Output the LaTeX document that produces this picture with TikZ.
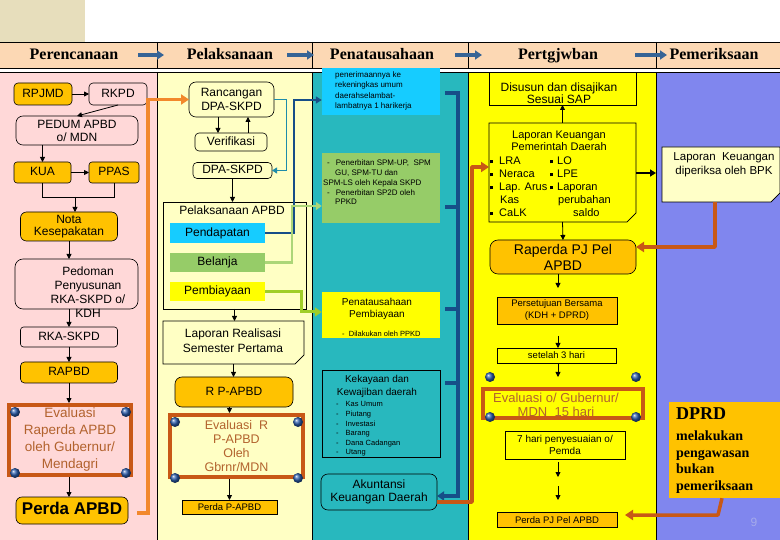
\documentclass[tikz,border=0pt]{standalone}
\usepackage{fontspec}
\setmainfont{Liberation Sans}
\newfontfamily\serf{Liberation Serif}
\usetikzlibrary{arrows.meta,calc}
\newcommand\fsz[2]{\fontsize{#1}{#2}\selectfont}
\newcommand\sq{\rule[1.2pt]{3pt}{3pt}}
\definecolor{pinkbg}{RGB}{255,216,216}
\definecolor{lyel}{RGB}{255,255,196}
\definecolor{tealc}{RGB}{40,184,190}
\definecolor{yel}{RGB}{255,255,0}
\definecolor{peri}{RGB}{128,134,238}
\definecolor{hdr}{RGB}{252,216,180}
\definecolor{beige}{RGB}{231,222,188}
\definecolor{orng}{RGB}{255,194,0}
\definecolor{brn}{RGB}{200,88,22}
\definecolor{evtext}{RGB}{178,98,45}
\definecolor{olin}{RGB}{242,136,44}
\definecolor{dbl}{RGB}{22,78,136}
\definecolor{hbl}{RGB}{54,100,150}
\definecolor{cyanb}{RGB}{22,204,255}
\definecolor{greenb}{RGB}{150,204,104}
\definecolor{glin}{RGB}{172,214,120}
\definecolor{yglin}{RGB}{160,206,40}
\definecolor{tlin}{RGB}{30,140,170}
\definecolor{noteb}{RGB}{255,255,200}
\definecolor{globec}{RGB}{40,90,170}
\definecolor{pgn}{RGB}{165,170,235}
\newcommand\mynote[2]{%
  \filldraw[fill=#2, line width=0.6pt] (#1.north west) -- (#1.north east) -- ([yshift=9pt]#1.south east) -- ([xshift=-9pt]#1.south east) -- (#1.south west) -- cycle;
  \draw[line width=0.6pt] ([xshift=-9pt]#1.south east) -- ([xshift=-5pt,yshift=4pt]#1.south east) -- ([yshift=9pt]#1.south east);}
\begin{document}
\begin{tikzpicture}[x=1pt,y=-1pt,
  bx/.style={draw, line width=0.6pt, align=center, inner sep=1pt, outer sep=0pt, font=\fsz{12}{14}},
  ob/.style={bx, fill=orng},
  sl/.style={text height=0.7em, text depth=0pt},
  thk/.style={draw=brn, line width=4pt, align=center, inner sep=1pt, text=evtext},
  tx/.style={inner sep=0pt, align=center},
  arr/.style={line width=0.8pt, -{Triangle[length=5pt,width=5pt]}},
  harr/.style={draw=hbl, line width=3.5pt, -{Triangle[length=7pt,width=9pt]}},
  hdrt/.style={inner sep=0pt, sl, font=\serf\bfseries\fsz{16}{18}},
  oline/.style={draw=olin, line width=3.5pt, -{Triangle[length=8pt,width=10pt]}},
  bline/.style={draw=dbl, line width=2pt, -{Triangle[length=6pt,width=7pt]}},
  dbline/.style={draw=dbl, line width=3.5pt},
  gline/.style={draw=glin, line width=2.5pt, -{Triangle[length=6pt,width=8pt]}},
  ygline/.style={draw=yglin, line width=3pt, -{Triangle[length=7pt,width=9pt]}},
  tline/.style={draw=tlin, line width=1pt, -{Triangle[length=5pt,width=6pt]}},
  brline/.style={draw=brn, line width=3.5pt, line join=round, -{Triangle[length=8pt,width=10pt]}},
  globe/.style={ball color=globec}
]
\useasboundingbox (0,0) rectangle (780,540);
\clip (0,0) rectangle (780,540);
% ---------- backgrounds ----------
\fill[white] (0,0) rectangle (780,540);
\fill[beige] (0,0) rectangle (85,42);
\fill[hdr] (0,42) rectangle (780,68);
\draw[line width=0.8pt] (0,42) -- (780,42) (0,68) -- (780,68);
\fill[pinkbg] (0,72) rectangle (157,540);
\fill[lyel] (157,72) rectangle (312,540);
\fill[tealc] (312,72) rectangle (468,540);
\fill[yel] (468,72) rectangle (656,540);
\fill[peri] (656,72) rectangle (780,540);
\draw[line width=0.8pt] (0,72) -- (780,72);
\foreach \xx in {157,312,468,656} \draw[line width=0.8pt] (\xx,42) -- (\xx,68) (\xx,72) -- (\xx,540);
% ---------- header ----------
\node[hdrt] (h1) at (74,56) {Perencanaan};
\node[hdrt] (h2) at (230,56) {Pelaksanaan};
\node[hdrt] (h3) at (382,56) {Penatausahaan};
\node[hdrt] (h4) at (558,56) {Pertgjwban};
\node[hdrt] (h5) at (714,56) {Pemeriksaan};
\coordinate (ha1) at (138,55); \coordinate (hb1) at (164,55);
\coordinate (ha2) at (287,55); \coordinate (hb2) at (314,55);
\coordinate (ha3) at (455,55); \coordinate (hb3) at (482,55);
\coordinate (ha4) at (635,55); \coordinate (hb4) at (667,55);
\draw[harr] (ha1) -- (hb1);
\draw[harr] (ha2) -- (hb2);
\draw[harr] (ha3) -- (hb3);
\draw[harr] (ha4) -- (hb4);
% ---------- Perencanaan ----------
\node[ob, sl, rounded corners=4pt, minimum width=58, minimum height=22] (rpjmd) at (43,94) {RPJMD};
\node[bx, sl, fill=pinkbg, rounded corners=4pt, minimum width=58, minimum height=22] (rkpd) at (118,94) {RKPD};
\node[bx, fill=pinkbg, rounded corners=7pt, minimum width=122, minimum height=29, font=\fsz{12}{13}] (pedum) at (77,130.5) {PEDUM APBD\\o/ MDN};
\node[ob, sl, rounded corners=3pt, minimum width=57, minimum height=21] (kua) at (42.5,172.5) {KUA};
\node[ob, sl, rounded corners=3pt, minimum width=50, minimum height=21] (ppas) at (114,172.5) {PPAS};
\node[ob, rounded corners=6pt, minimum width=97, minimum height=29, font=\fsz{12}{12.5}] (nota) at (69,226.5) {Nota\\Kesepakatan};
\node[bx, fill=pinkbg, rounded corners=8pt, minimum width=123, minimum height=50] (pedoman) at (76.5,284) {};
\node[tx, font=\fsz{12}{14}] (pedomant) at (88,292) {Pedoman\\Penyusunan\\RKA-SKPD o/\\KDH};
\node[bx, sl, fill=pinkbg, rounded corners=3pt, minimum width=97, minimum height=20] (rkaskpd) at (69,337) {RKA-SKPD};
\node[ob, sl, rounded corners=4pt, minimum width=97, minimum height=21] (rapbd) at (69,372.5) {RAPBD};
\node[thk, minimum width=122, minimum height=70, font=\fsz{13.5}{17}] (evalr) at (70,440) {Evaluasi\\Raperda APBD\\oleh Gubernur/\\Mendagri};
\node[ob, sl, rounded corners=6pt, minimum width=112, minimum height=27, font=\bfseries\fsz{17}{19}] (perda) at (72,510.5) {Perda APBD};
\draw[arr] (rpjmd) -- (rkpd);
\draw[arr] (rkpd.south) -- (pedum.north);
\draw[arr] (kua.north |- pedum.south) -- (kua.north);
\draw[arr] (kua) -- (ppas);
\coordinate (jn) at (75,197);
\draw[line width=0.8pt] (kua.south) -- (kua.south |- jn) -- (ppas.south |- jn) -- (ppas.south);
\draw[arr] (jn) -- (jn |- nota.north);
\draw[arr] (nota.south) -- (nota.south |- pedoman.north);
\draw[arr] (rkaskpd.north |- pedoman.south) -- (rkaskpd.north);
\draw[arr] (rkaskpd.south) -- (rkaskpd.south |- rapbd.north);
\draw[arr] (rapbd.south) -- (rapbd.south |- evalr.north);
\draw[arr] (rapbd.south |- evalr.south) -- (rapbd.south |- perda.north);
\coordinate (ost) at (137,513);
% ---------- Pelaksanaan ----------
\node[bx, fill=lyel, rounded corners=7pt, minimum width=85, minimum height=35] (rancangan) at (231.5,99.5) {Rancangan\\DPA-SKPD};
\node[bx, sl, fill=lyel, rounded corners=4pt, minimum width=72, minimum height=18] (verif) at (231,142) {Verifikasi};
\node[bx, sl, fill=lyel, rounded corners=4pt, minimum width=79, minimum height=16] (dpaskpd) at (232.5,170.5) {DPA-SKPD};
\draw[oline] (ost) -- ++(11,0) |- (rancangan.west);
\coordinate (vd) at ([xshift=-13.5pt]rancangan.south);
\coordinate (vu) at ([xshift=16.5pt]rancangan.south);
\draw[arr] (vd) -- (vd |- verif.north);
\draw[arr] (vu |- verif.north) -- (vu);
\draw[tline] (rancangan.east) -- ++(12,0) |- (dpaskpd.east);
\node[bx, fill=lyel, minimum width=143, minimum height=107] (pelapbd) at (234.5,255.5) {};
\node[tx, sl, font=\fsz{12}{14}] (pelt) at (232,211) {Pelaksanaan APBD};
\draw[arr] (dpaskpd.south) -- (dpaskpd.south |- pelapbd.north);
\node[tx, sl, fill=cyanb, minimum width=95, minimum height=20, font=\fsz{12}{14}] (pendap) at (217.5,233) {Pendapatan};
\node[tx, sl, fill=greenb, minimum width=95, minimum height=19, font=\fsz{12}{14}] (belanja) at (217.5,262.5) {Belanja};
\node[tx, sl, fill=yel, minimum width=95, minimum height=19, font=\fsz{12}{14}] (pembi) at (217.5,291.5) {Pembiayaan};
\node[inner sep=0pt, outer sep=0pt, minimum width=141, minimum height=43] (lapreal) at (233.5,342.5) {};
\mynote{lapreal}{lyel}
\node[tx, font=\fsz{12}{15}] (laprealt) at (233,340.5) {Laporan Realisasi\\Semester Pertama};
\draw[arr] (pelapbd.south) -- (pelapbd.south |- lapreal.north);
\node[ob, sl, rounded corners=7pt, minimum width=118, minimum height=30] (rpapbd) at (234,392) {R P-APBD};
\node[thk, minimum width=133, minimum height=62, font=\fsz{12.5}{13.7}] (evalrp) at (236.5,446) {Evaluasi~~R\\P-APBD\\Oleh\\Gbrnr/MDN};
\node[ob, sl, minimum width=95, minimum height=14, font=\fsz{9.5}{11}] (perdap) at (229.5,507) {Perda P-APBD};
\draw[arr] (lapreal.south) -- (lapreal.south |- rpapbd.north);
\draw[arr] (perdap.north |- rpapbd.south) -- (perdap.north |- evalrp.north);
\draw[arr] (perdap.north |- evalrp.south) -- (perdap.north);
% ---------- Penatausahaan ----------
\node[tx, fill=cyanb, minimum width=118, minimum height=47] (pener) at (381,91.5) {};
\node[tx, anchor=west, align=left, font=\fsz{8}{10.5}] (penert) at (335,91) {penerimaannya ke\\rekeningkas umum\\daerahselambat-\\lambatnya 1 harikerja};
\node[tx, fill=greenb, minimum width=118, minimum height=70] (spm) at (381,188) {};
\node[tx, anchor=west, align=left, font=\fsz{8}{9.8}] (spmt) at (323,182.5) {\hspace*{4pt}-\hspace{6pt}Penerbitan SPM-UP,~~SPM\\\hspace*{12pt}GU, SPM-TU dan\\SPM-LS oleh Kepala SKPD\\\hspace*{4pt}-\hspace{6pt}Penerbitan SP2D oleh\\\hspace*{12pt}PPKD};
\node[tx, fill=yel, minimum width=118, minimum height=46] (pemb) at (381,315) {};
\node[tx, font=\fsz{10}{12}] (pembt) at (377,309) {Penatausahaan\\Pembiayaan};
\node[tx, sl, anchor=west, font=\fsz{7.5}{9}] (pembt2) at (342,333) {-~~Dilakukan oleh PPKD};
\node[bx, fill=tealc, minimum width=118, minimum height=87] (kek) at (381,413.5) {};
\node[tx, font=\fsz{10}{13}] (kekt) at (377,386.5) {Kekayaan dan\\Kewajiban daerah};
\node[tx, anchor=west, align=left, font=\fsz{7.5}{9.6}] (kekl) at (336,429) {-\hspace{7pt}Kas Umum\\-\hspace{7pt}Piutang\\-\hspace{7pt}Investasi\\-\hspace{7pt}Barang\\-\hspace{7pt}Dana Cadangan\\-\hspace{7pt}Utang};
\node[bx, fill=tealc, rounded corners=7pt, minimum width=116, minimum height=36, font=\fsz{12}{13.5}] (akun) at (379,492) {Akuntansi\\Keuangan Daerah};
\draw[bline] (pendap.east) -- (294,233) -- (294,100) -- (pener.west |- 0,100);
\draw[gline] (belanja.east) -- (292,262.5) -- (292,206) -- (spm.west |- 0,206);
\draw[ygline] (pembi.east) -- (301,291.5) -- (301,312) -- (pemb.west |- 0,312);
\draw[dbline, -{Triangle[length=7pt,width=9pt]}] (pener.east |- 0,93) ++(5,0) -- (458,93) -- (458,496) -- (akun.east |- 0,496);
\draw[dbline] (spm.east |- 0,207) ++(5,0) -- (458,207);
\draw[dbline] (pemb.east |- 0,309) ++(5,0) -- (458,309);
\draw[dbline] (kek.east |- 0,383) ++(5,0) -- (458,383);
% ---------- Pertgjwban ----------
\node[bx, fill=yel, minimum width=147, minimum height=33] (disusun) at (562.5,88.5) {};
\node[tx, font=\fsz{12}{11.5}] (disusunt) at (559,93) {Disusun dan disajikan\\Sesuai SAP};
\node[inner sep=0pt, outer sep=0pt, minimum width=147, minimum height=99] (lk) at (562.5,172.5) {};
\mynote{lk}{yel}
\node[tx, font=\fsz{11}{12.5}] (lkt) at (559,141) {Laporan Keuangan\\Pemerintah Daerah};
\begin{scope}[every node/.style={tx, sl, anchor=west, font=\fsz{11}{13}}]
\node (b1) at (490,161) {\sq\hspace{6pt}LRA};
\node (b2) at (490,174) {\sq\hspace{6pt}Neraca};
\node (b3) at (490,187) {\sq\hspace{6pt}Lap. Arus};
\node (b4) at (500,200) {Kas};
\node (b5) at (490,213) {\sq\hspace{6pt}CaLK};
\node (c1) at (550,161) {\sq\hspace{4pt}LO};
\node (c2) at (550,174) {\sq\hspace{4pt}LPE};
\node (c3) at (550,187) {\sq\hspace{4pt}Laporan};
\node (c4) at (558,200) {perubahan};
\node (c5) at (573,213) {saldo};
\end{scope}
\draw[arr] (lk.north) -- (disusun.south);
\coordinate (pedge) at (656,173);
\draw[line width=2.5pt, -{Triangle[length=6pt,width=7pt]}] (lk.east |- pedge) -- (pedge);
\node[ob, rounded corners=8pt, minimum width=146, minimum height=34, font=\fsz{14}{16}] (raperda) at (563,257) {Raperda PJ Pel\\APBD};
\draw[arr] (lk.south) -- (raperda.north);
\draw[brline] (akun.east |- 0,502) -- (472,502) -- (472,167) -- (lk.west |- 0,167);
\node[ob, minimum width=120, minimum height=27, font=\fsz{9.5}{12}] (pers) at (557,310.5) {Persetujuan Bersama\\(KDH + DPRD)};
\node[bx, sl, fill=yel, minimum width=119, minimum height=15, font=\fsz{9.5}{11}] (setelah) at (556.5,355.5) {setelah 3 hari};
\node[thk, minimum width=160, minimum height=29] (evalg) at (563,403.5) {};
\node[tx, text=evtext, font=\fsz{13}{14}] (evalgt) at (556,405) {Evaluasi o/ Gubernur/\\MDN~~15 hari};
\node[bx, fill=yel, minimum width=120, minimum height=28, font=\fsz{10}{12}] (sevenhari) at (565,445) {7 hari penyesuaian o/\\Pemda};
\node[ob, sl, minimum width=120, minimum height=15, font=\fsz{9.5}{11}] (perdapj) at (557,519.5) {Perda PJ Pel APBD};
\draw[arr, shorten >=9pt] (raperda.south -| 558,0) -- (pers.north -| 558,0);
\draw[arr, shorten <=12pt] (pers.south -| 558,0) -- (setelah.north -| 558,0);
\draw[arr, shorten >=10pt] (setelah.south -| 558,0) -- (evalg.north -| 558,0);
\coordinate (g1) at (558,477);
\coordinate (g2) at (558,486);
\draw[arr, shorten <=3pt] (sevenhari.south -| g1) -- (g1);
\draw[arr, shorten >=12pt] (g2) -- (perdapj.north -| g2);
% ---------- Pemeriksaan ----------
\node[inner sep=0pt, outer sep=0pt, minimum width=118, minimum height=55] (lkbpk) at (721,174.5) {};
\mynote{lkbpk}{noteb}
\node[tx, font=\fsz{11.5}{14}] (lkbpkt) at (724,164.5) {Laporan~~Keuangan\\diperiksa oleh BPK};
\draw[brline] (lkbpk.south -| 715,0) -- (715,247) -- (raperda.east |- 0,247);
\node[tx, fill=orng, minimum width=116, minimum height=96] (dprd) at (727,450) {};
\node[tx, sl, anchor=west, font=\serf\bfseries\fsz{18}{20}] (dprdt) at (676,416) {DPRD};
\node[tx, anchor=west, align=left, font=\serf\bfseries\fsz{14}{16.7}] (dprdb) at (676,462) {melakukan\\pengawasan\\bukan\\pemeriksaan};
\draw[brline, shorten >=8pt] (dprd.south -| 722,0) -- (718,515) -- ([yshift=4.5pt]perdapj.east);
\node[tx, sl, text=pgn, font=\fsz{12}{14}] (pgnum) at (754,523) {9};
% ---------- globes ----------
\foreach \gx/\gy in {15/412,126/412,15/473,126/473,175/422,298/422,175/478,298/478,490/377,636/377,490/417,636/417}
  \shade[globe] (\gx,\gy) circle[radius=5pt];
\end{tikzpicture}
\end{document}
